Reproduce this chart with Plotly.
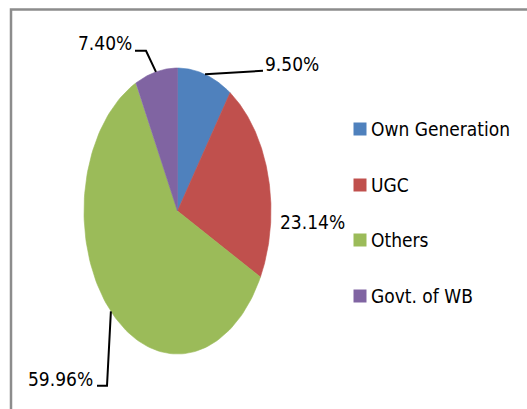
import numpy as np
import plotly.graph_objects as go

# ---- data ----
categories = ["Own Generation", "UGC", "Others", "Govt. of WB"]
shares = [9.50, 23.14, 59.96, 7.40]
colors = ["#4F81BD", "#C0504D", "#9BBB59", "#8064A2"]
pct_labels = ["9.50%", "23.14%", "59.96%", "7.40%"]

# ---- layout constants (pixel space) ----
W, H = 527, 409
CX, CY, RX, RY = 177.5, 211.0, 93.5, 143.0
FONT = "DejaVu Sans Condensed, Liberation Sans Narrow, sans-serif"
FS = 19


def edge_point(frac):
    th = 2 * np.pi * frac
    return CX + RX * np.sin(th), CY - RY * np.cos(th)


fig = go.Figure()

total = sum(shares)
cum = 0.0
mids = []
for name, v, c in zip(categories, shares, colors):
    f0 = cum / total
    f1 = (cum + v) / total
    cum += v
    mids.append((f0 + f1) / 2)
    ts = np.linspace(f0, f1, 120)
    xs = [CX] + [edge_point(t)[0] for t in ts] + [CX]
    ys = [CY] + [edge_point(t)[1] for t in ts] + [CY]
    fig.add_trace(go.Scatter(x=xs, y=ys, mode="lines", fill="toself",
                             fillcolor=c, line=dict(color=c, width=0.6),
                             name=name, showlegend=False, hoverinfo="name"))

# leader lines (start point from slice mid-angle; elbows are layout positions)
leader_elbows = {
    0: [(258, 70.7), (263, 70.7)],
    2: [(107, 385.7), (97, 385.7)],
    3: [(146, 50.7), (135, 50.7)],
}
for i, pts in leader_elbows.items():
    sx, sy = edge_point(mids[i])
    xs = [sx] + [p[0] for p in pts]
    ys = [sy] + [p[1] for p in pts]
    fig.add_trace(go.Scatter(x=xs, y=ys, mode="lines",
                             line=dict(color="#000000", width=2),
                             showlegend=False, hoverinfo="skip"))

# percentage labels
label_pos = {
    0: (263, 64, "left"),
    1: (278, 221.5, "left"),
    2: (95, 379, "right"),
    3: (134, 43, "right"),
}
for i, (x, y, anchor) in label_pos.items():
    fig.add_annotation(x=x, y=y, xref="x", yref="y", text=pct_labels[i],
                       showarrow=False, xanchor=anchor, yanchor="middle",
                       font=dict(family=FONT, size=FS, color="#000000"))

# legend (squares + text)
leg_y = [129, 185, 240, 296]
fig.add_trace(go.Scatter(x=[360] * 4, y=leg_y, mode="markers",
                         marker=dict(symbol="square", size=13, color=colors),
                         showlegend=False, hoverinfo="skip"))
for name, y in zip(categories, leg_y):
    fig.add_annotation(x=369, y=y, xref="x", yref="y", text=name,
                       showarrow=False, xanchor="left", yanchor="middle",
                       font=dict(family=FONT, size=FS, color="#000000"))

# outer frame
fig.add_shape(type="rect", x0=11, y0=9.5, x1=560, y1=440,
              line=dict(color="#8c8c8c", width=2.5), layer="above")

fig.update_layout(
    width=W, height=H,
    margin=dict(l=0, r=0, t=0, b=0),
    paper_bgcolor="white", plot_bgcolor="white",
    xaxis=dict(range=[0, W], visible=False, fixedrange=True),
    yaxis=dict(range=[H, 0], visible=False, fixedrange=True),
    showlegend=False,
)

fig.write_html(
    "out.html",
    config={"displayModeBar": False},
    post_script="document.body.style.margin='0px';"
                "document.documentElement.style.overflow='hidden';",
)
